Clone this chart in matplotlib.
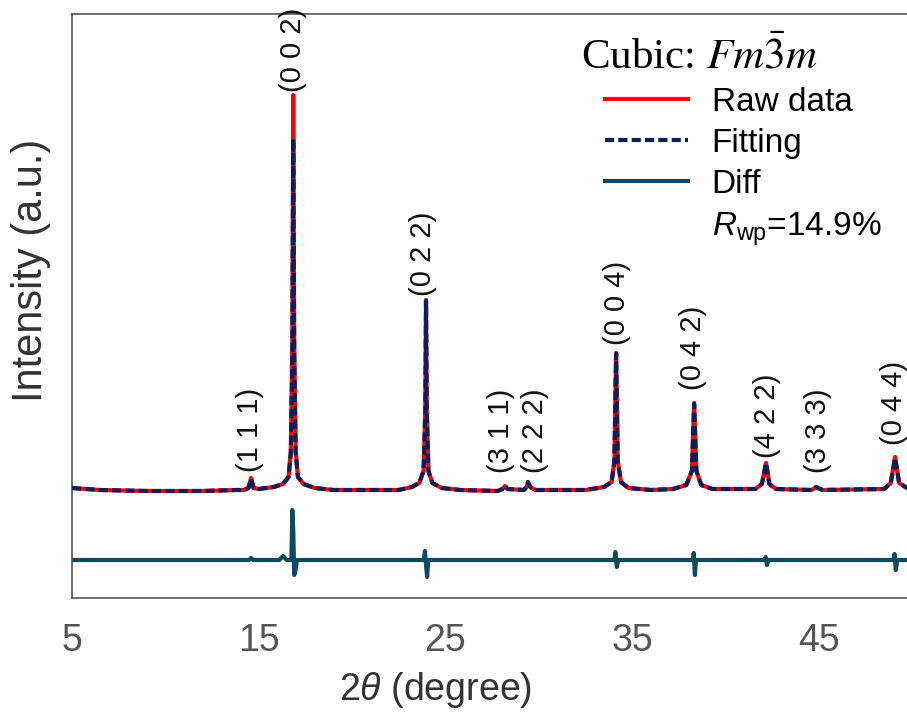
import matplotlib.pyplot as plt
from matplotlib.lines import Line2D

plt.rcParams['font.family'] = ['Liberation Sans', 'DejaVu Sans']
plt.rcParams['mathtext.fontset'] = 'custom'
plt.rcParams['mathtext.rm'] = 'Liberation Sans'
plt.rcParams['mathtext.it'] = 'Liberation Sans:italic'

# 2theta grid for raw / fitted pattern
two_theta = [5.0, 6.5, 9.0, 12.0, 13.8,
             14.2, 14.45, 14.59, 14.73, 15.0,
             15.8, 16.3, 16.6, 16.72, 16.8, 16.85, 16.9, 16.98, 17.1, 17.4, 18.0, 19.0,
             22.5, 23.2, 23.6, 23.83, 23.92, 23.96, 24.0, 24.09, 24.3, 24.8, 25.8,
             27.8, 28.05, 28.19, 28.33, 29.2, 29.35, 29.42, 29.55, 29.8,
             32.5, 33.5, 33.9, 34.05, 34.14, 34.23, 34.4, 34.8, 36.0,
             37.2, 37.9, 38.2, 38.32, 38.44, 38.7, 39.3,
             41.6, 41.95, 42.17, 42.35, 42.7,
             44.6, 44.78, 44.85, 44.95, 45.2,
             48.5, 48.85, 49.08, 49.3, 49.72]

raw_int = [3, 1, 0, 0, 1,
           1, 3, 13, 3, 2,
           4, 7, 14, 40, 150, 396, 150, 40, 14, 7, 3, 1,
           1, 4, 8, 20, 80, 191, 80, 20, 8, 3, 1,
           0, 2, 5, 2, 1, 4, 9, 4, 1,
           1, 4, 9, 30, 138, 30, 9, 3, 1,
           2, 6, 20, 88, 20, 6, 2,
           2, 7, 28, 7, 2,
           1, 3, 4, 3, 1,
           2, 8, 34, 8, 3]

fit_int = [3, 1, 0, 0, 1,
           1, 3, 12, 3, 2,
           4, 7, 14, 38, 135, 352, 135, 38, 14, 7, 3, 1,
           1, 4, 8, 20, 80, 190, 80, 20, 8, 3, 1,
           0, 2, 5, 2, 1, 4, 9, 4, 1,
           1, 4, 9, 30, 137, 30, 9, 3, 1,
           2, 6, 20, 87, 20, 6, 2,
           2, 7, 28, 7, 2,
           1, 3, 4, 3, 1,
           2, 8, 33, 8, 3]

diff_theta = [5.0, 14.5, 14.59, 14.7, 16.1, 16.3, 16.5, 16.75, 16.8, 16.85, 16.9, 16.95, 17.05,
              23.85, 23.9, 23.96, 24.02, 24.08,
              34.05, 34.1, 34.18, 34.25,
              38.25, 38.3, 38.36, 38.42,
              42.1, 42.15, 42.22, 42.3,
              49.0, 49.05, 49.12, 49.2, 49.72]
diff_int = [0, 0, 2, 0, 0, 4, 0, 0, 50, 30, -15, -12, 0,
            0, 9, -5, -17, 0,
            0, 8, -7, 0,
            0, 7, -15, 0,
            0, 3, -5, 0,
            0, 6, -10, 0, 0]
diff_offset = -69

hkl = ['(1 1 1)', '(0 0 2)', '(0 2 2)', '(3 1 1)', '(2 2 2)',
       '(0 0 4)', '(0 4 2)', '(4 2 2)', '(3 3 3)', '(0 4 4)']
hkl_pos = [14.55, 16.85, 23.8, 28.0, 29.8, 34.2, 38.25, 42.2, 44.95, 49.05]
hkl_base = [19, 399, 195, 18, 18, 146, 101, 33, 18, 46]

fig = plt.figure(figsize=(9.07, 7.2), dpi=100)
ax = fig.add_axes([72 / 907, 122 / 720, 835 / 907, 584 / 720])

ax.plot(two_theta, raw_int, color='#ff0000', lw=3, label='Raw data', zorder=2)
ax.plot(two_theta, fit_int, color='#0b1f5c', lw=3, ls=(0, (2.2, 1.0)), label='Fitting', zorder=3)
ax.plot(diff_theta, [d + diff_offset for d in diff_int], color='#0e4a5e', lw=3, label='Diff', zorder=2)

for lab, xp, yb in zip(hkl, hkl_pos, hkl_base):
    ax.text(xp, yb, lab, rotation=90, ha='center', va='bottom', fontsize=21, color='#111')

ax.set_xlim(5, 49.72)
ax.set_ylim(-107, 477)
ax.set_xticks([5, 15, 25, 35, 45])
ax.set_yticks([])
ax.tick_params(axis='x', length=0, pad=18, labelsize=27, labelcolor='#555555')
for s in ['left', 'top', 'bottom']:
    ax.spines[s].set_color('#444444')
    ax.spines[s].set_linewidth(1.1)
ax.spines['right'].set_visible(False)

ax.set_xlabel(r'2$\theta$ (degree)', fontsize=27, color='#333333', va='center')
ax.xaxis.set_label_coords(364 / 835, -92 / 584)
ax.set_ylabel('Intensity (a.u.)', fontsize=30, color='#333333', va='center')
ax.yaxis.set_label_coords(-41 / 835, 328 / 584)

fig.text(581 / 907, 1 - 57 / 720, r'Cubic: $Fm\bar{\mathit{3}}m$', family='Liberation Serif',
         fontsize=31, math_fontfamily='stix', ha='left', va='center')

handles, labels = ax.get_legend_handles_labels()
handles.append(Line2D([], [], color='none'))
labels.append(r'$R_{\mathrm{wp}}$=14.9%')
leg = ax.legend(handles, labels, loc='upper left', bbox_to_anchor=(605 / 907, 1 - 87 / 720),
                bbox_transform=fig.transFigure, frameon=False, fontsize=24,
                handlelength=2.5, handletextpad=0.7, labelspacing=0.3,
                borderpad=0, borderaxespad=0)

fig.savefig('out.png', dpi=100)
